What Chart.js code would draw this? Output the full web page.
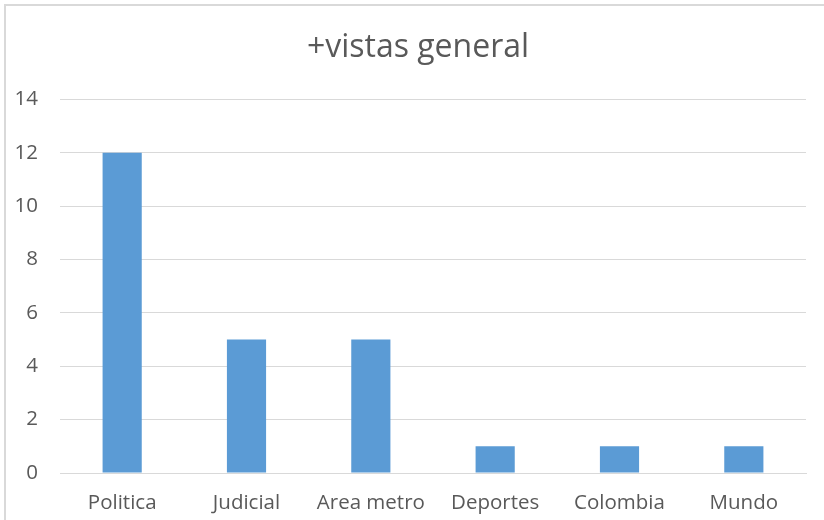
<!DOCTYPE html>
<html>
<head>
<meta charset="utf-8">
<script src="https://cdn.jsdelivr.net/npm/chart.js@4/dist/chart.umd.min.js"></script>
<style>
html,body{margin:0;padding:0;background:#fff;}
#wrap{position:absolute;left:0;top:0;width:824px;height:520px;}
</style>
</head>
<body>
<div id="wrap"><canvas id="c" width="824" height="520"></canvas></div>
<script>
const categories = ["Politica", "Judicial", "Area metro", "Deportes", "Colombia", "Mundo"];
const values = [12, 5, 5, 1, 1, 1];
const chartTitle = "+vistas general";
const yMin = 0, yMax = 14, yStep = 2;

const frame = {
  id: 'frame',
  beforeDraw(chart) {
    const ctx = chart.ctx;
    ctx.save();
    ctx.fillStyle = '#fff';
    ctx.fillRect(0, 0, chart.width, chart.height);
    ctx.strokeStyle = '#d9d9d9';
    ctx.lineWidth = 2;
    ctx.beginPath();
    ctx.moveTo(5, chart.height + 5);
    ctx.lineTo(5, 5);
    ctx.lineTo(chart.width + 5, 5);
    ctx.stroke();
    ctx.restore();
  }
};

const titleShift = {
  id: 'titleShift',
  afterLayout(chart) {
    const t = chart.titleBlock;
    if (t) { t.left += 15; t.right += 15; }
  }
};

new Chart(document.getElementById('c'), {
  type: 'bar',
  data: {
    labels: categories,
    datasets: [{
      data: values,
      backgroundColor: '#5b9bd5',
      borderWidth: 0,
      categoryPercentage: 1,
      barPercentage: 0.315
    }]
  },
  options: {
    responsive: false,
    animation: false,
    layout: { padding: { left: 0, right: 18, top: 0, bottom: 0 } },
    plugins: {
      legend: { display: false },
      tooltip: { enabled: false },
      title: {
        display: true,
        text: chartTitle,
        color: '#595959',
        font: { family: 'Open Sans', size: 32, weight: 'normal' },
        padding: { top: 29, bottom: 32 }
      }
    },
    scales: {
      y: {
        min: yMin, max: yMax,
        ticks: { stepSize: yStep, color: '#595959', font: { family: 'Open Sans', size: 20.5 }, padding: 22 },
        grid: { color: '#d9d9d9', drawTicks: false, lineWidth: 1 },
        border: { display: false },
        afterFit(s) { s.width = 60; }
      },
      x: {
        ticks: { color: '#595959', font: { family: 'Open Sans', size: 20.5 }, padding: 18 },
        grid: { display: false, drawTicks: false },
        border: { display: true, color: '#d9d9d9', width: 1 },
        afterFit(s) { s.height = 47; }
      }
    }
  },
  plugins: [frame, titleShift]
});
</script>
</body>
</html>
